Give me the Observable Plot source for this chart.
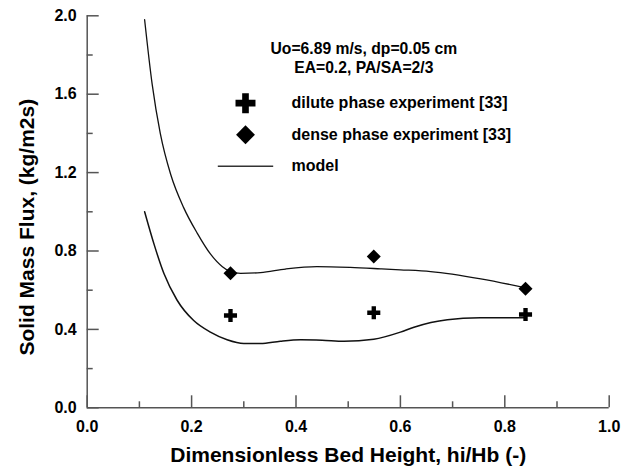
<!DOCTYPE html>
<html>
<head>
<meta charset="utf-8">
<script src="https://cdn.jsdelivr.net/npm/d3@7"></script>
<script src="https://cdn.jsdelivr.net/npm/@observablehq/plot@0.6"></script>
<style>
  html, body { margin: 0; padding: 0; background: #fff; }
  #chart svg { display: block; }
</style>
</head>
<body>
<div id="chart"></div>
<script>
// Experimental measurements (relative bed height hi/Hb, solid mass flux kg/m2s)
const bedHeight = [0.2745, 0.549, 0.8397];
const diluteFlux = [0.471, 0.485, 0.476];
const denseFlux = [0.687, 0.772, 0.607];

// Model curve, dense phase
const modelDenseX = [0.110, 0.1245, 0.140, 0.160, 0.185, 0.211, 0.236, 0.259, 0.2745, 0.294, 0.332, 0.380, 0.440, 0.504, 0.562, 0.600, 0.658, 0.754, 0.840];
const modelDenseY = [1.98, 1.65, 1.40, 1.19, 1.02, 0.89, 0.785, 0.72, 0.695, 0.686, 0.690, 0.708, 0.720, 0.716, 0.709, 0.704, 0.695, 0.658, 0.612];

// Model curve, dilute phase
const modelDiluteX = [0.110, 0.128, 0.147, 0.172, 0.204, 0.236, 0.268, 0.300, 0.332, 0.370, 0.409, 0.450, 0.492, 0.549, 0.600, 0.626, 0.690, 0.753, 0.840];
const modelDiluteY = [1.00, 0.835, 0.685, 0.55, 0.445, 0.386, 0.347, 0.328, 0.328, 0.340, 0.347, 0.345, 0.340, 0.350, 0.386, 0.411, 0.449, 0.459, 0.460];

// Axis ticks
const xMajorTicks = [0, 0.2, 0.4, 0.6, 0.8, 1.0];
const xMinorTicks = [0.1, 0.3, 0.5, 0.7, 0.9];
const yMajorTicks = [0, 0.4, 0.8, 1.2, 1.6, 2.0];
const yMinorTicks = [0.2, 0.6, 1.0, 1.4, 1.8];

// Texts
const xTitle = "Dimensionless Bed Height, hi/Hb (-)";
const yTitle = "Solid Mass Flux, (kg/m2s)";
const conditionLines = ["Uo=6.89 m/s, dp=0.05 cm", "EA=0.2, PA/SA=2/3"];
const legendLabels = ["dilute phase experiment [33]", "dense phase experiment [33]", "model"];

const W = 641, H = 468;
const mL = 86.7, mR = 32.3, mT = 15.3, mB = 60.7;
const frameW = W - mL - mR, frameH = H - mT - mB;
const axisColor = "#555";
const ink = "#111";
const FONT = "'Liberation Sans', Arial, Helvetica, sans-serif";

const pts = (xs, ys) => xs.map((x, i) => ({x, y: ys[i]}));
const dilute = pts(bedHeight, diluteFlux);
const dense = pts(bedHeight, denseFlux);
const modelDense = pts(modelDenseX, modelDenseY);
const modelDilute = pts(modelDiluteX, modelDiluteY);

// horizontal stroke used as the "model" legend swatch
const legendLine = {draw(ctx) { ctx.moveTo(-27.7, 0); ctx.lineTo(27.7, 0); }};

// offsets of legend / annotation relative to the frame's top-left corner
const at = (dx, dy) => ({frameAnchor: "top-left", dx, dy});
const legendRows = [87.4, 119, 150.4];

const chart = Plot.plot({
  width: W,
  height: H,
  marginLeft: mL,
  marginRight: mR,
  marginTop: mT,
  marginBottom: mB,
  style: {fontFamily: FONT, fontWeight: "bold", color: "#000", background: "#fff"},
  x: {domain: [0, 1]},
  y: {domain: [0, 2]},
  marks: [
    // inward ticks
    Plot.tickX(xMajorTicks, {x: d => d, insetTop: frameH - 12, stroke: axisColor, strokeWidth: 1.5}),
    Plot.tickX(xMinorTicks, {x: d => d, insetTop: frameH - 6, stroke: axisColor, strokeWidth: 1.5}),
    Plot.tickY(yMajorTicks, {y: d => d, insetRight: frameW - 12, stroke: axisColor, strokeWidth: 1.5}),
    Plot.tickY(yMinorTicks, {y: d => d, insetRight: frameW - 6, stroke: axisColor, strokeWidth: 1.5}),
    // tick labels
    Plot.axisX(xMajorTicks, {tickSize: 0, tickPadding: 12.5, stroke: "none", fill: "#000", label: null,
      tickFormat: d => d.toFixed(1), fontSize: 16, fontWeight: "bold"}),
    Plot.axisY(yMajorTicks, {tickSize: 0, tickPadding: 10.5, stroke: "none", fill: "#000", label: null,
      tickFormat: d => d.toFixed(1), fontSize: 16, fontWeight: "bold"}),
    // axis lines
    Plot.ruleX([0], {stroke: axisColor, strokeWidth: 1.5}),
    Plot.ruleY([0], {stroke: axisColor, strokeWidth: 1.5}),
    // axis titles
    Plot.text([xTitle], {text: d => d, frameAnchor: "bottom", dy: 47.7, fontSize: 21, fontWeight: "bold",
      textAnchor: "middle", lineAnchor: "middle", fill: "#000"}),
    Plot.text([yTitle], {text: d => d, frameAnchor: "left", dx: -60, dy: 15.4, rotate: -90, fontSize: 21, fontWeight: "bold",
      textAnchor: "middle", lineAnchor: "middle", fill: "#000"}),
    // model curves
    Plot.line(modelDense, {x: "x", y: "y", curve: "monotone-x", stroke: ink, strokeWidth: 1.3}),
    Plot.line(modelDilute, {x: "x", y: "y", curve: "monotone-x", stroke: ink, strokeWidth: 1.5}),
    // experiments
    Plot.dot(dense, {x: "x", y: "y", symbol: "diamond2", r: 6.3, fill: "#000", stroke: "none"}),
    Plot.dot(dilute, {x: "x", y: "y", symbol: "cross", r: 5.5, fill: "#000", stroke: "none"}),
    // operating conditions
    Plot.text([conditionLines[0]], {text: d => d, ...at(276.6, 33), fontSize: 15.7, fontWeight: "bold", textAnchor: "middle", lineAnchor: "middle", fill: "#000"}),
    Plot.text([conditionLines[1]], {text: d => d, ...at(276.6, 52.5), fontSize: 15.7, fontWeight: "bold", textAnchor: "middle", lineAnchor: "middle", fill: "#000"}),
    // legend
    Plot.dot([0], {...at(158.3, legendRows[0]), symbol: "cross", r: 8.4, fill: "#000", stroke: "none"}),
    Plot.dot([0], {...at(158.3, legendRows[1]), symbol: "diamond2", r: 8.5, fill: "#000", stroke: "none"}),
    Plot.dot([0], {...at(158.3, legendRows[2]), symbol: legendLine, r: 5, fill: "none", stroke: "#333", strokeWidth: 1.5}),
    Plot.text([legendLabels[0]], {text: d => d, ...at(204.3, legendRows[0]), fontSize: 16, fontWeight: "bold", textAnchor: "start", lineAnchor: "middle", fill: "#000"}),
    Plot.text([legendLabels[1]], {text: d => d, ...at(204.3, legendRows[1]), fontSize: 16, fontWeight: "bold", textAnchor: "start", lineAnchor: "middle", fill: "#000"}),
    Plot.text([legendLabels[2]], {text: d => d, ...at(204.3, legendRows[2]), fontSize: 16, fontWeight: "bold", textAnchor: "start", lineAnchor: "middle", fill: "#000"})
  ]
});

document.getElementById("chart").appendChild(chart);
</script>
</body>
</html>
